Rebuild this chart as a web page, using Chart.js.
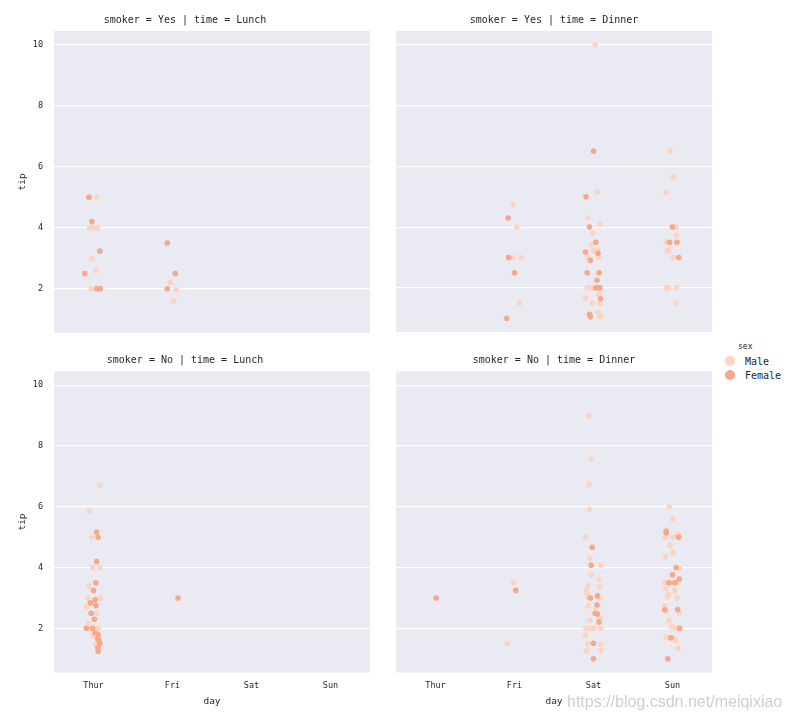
<!DOCTYPE html>
<html>
<head>
<meta charset="utf-8">
<script src="https://cdn.jsdelivr.net/npm/chart.js@4/dist/chart.umd.min.js"></script>
<style>
body{margin:0;background:#fff;width:792px;height:720px;position:relative;overflow:hidden;font-family:'DejaVu Sans Mono',monospace;color:#262626}
.panel{position:absolute}
#legend{position:absolute;left:722px;top:340px;width:70px;color:#262626}
#legend .ttl{position:absolute;left:16px;top:2px;font-size:8px}
#legend .row{position:absolute;left:3px;height:12px;font-size:10px;line-height:12px;white-space:nowrap}
#legend .dot{display:inline-block;width:10px;height:10px;border-radius:50%;vertical-align:middle;margin-right:10px;position:relative;top:-1px}
#wm{position:absolute;left:567px;top:693px;font-family:'Liberation Sans Narrow','Liberation Sans',sans-serif;font-size:16px;color:#cfcfcf;white-space:nowrap}
</style>
</head>
<body>
<div class="panel" style="left:0;top:340px;width:380px;height:380px"><canvas id="c2"></canvas></div>
<div class="panel" style="left:386px;top:340px;width:336px;height:380px"><canvas id="c3"></canvas></div>
<div class="panel" style="left:0;top:0;width:380px;height:349px"><canvas id="c0"></canvas></div>
<div class="panel" style="left:386px;top:0;width:336px;height:340px"><canvas id="c1"></canvas></div>
<div id="legend"></div>
<div id="wm">https://blog.csdn.net/meiqixiao</div>
<script>
// categories / ticks
const days=['Thur','Fri','Sat','Sun'];
const tipTicks=[2,4,6,8,10];
const sexes=['Male','Female'];
const MALE='#fcd4c0',FEMALE='#f5a88a';

const yesLunchMale=[['Thur',0.044,5.0],['Thur',-0.05,4.0],['Thur',0,4.0],['Thur',0.05,4.0],['Thur',-0.02,3.0],['Thur',0.03,2.6],['Thur',-0.03,2.0],['Thur',0.015,2.0],
  ['Fri',-0.03,2.2],['Fri',0.045,1.96],['Fri',0.015,1.6]];
const yesLunchFemale=[['Thur',-0.057,5.0],['Thur',-0.02,4.2],['Thur',0.08,3.23],['Thur',-0.11,2.5],['Thur',0.045,2.0],['Thur',0.07,2.0],['Thur',0.085,2.0],
  ['Fri',-0.066,3.5],['Fri',0.035,2.5],['Fri',-0.066,2.0]];

const yesDinnerMale=[['Fri',-0.02,4.73],['Fri',0.03,4.0],['Fri',-0.02,3.0],['Fri',0.08,3.0],['Fri',0.066,1.5],
  ['Sat',0.02,10.0],['Sat',0.05,5.16],['Sat',-0.07,4.3],['Sat',0.085,4.1],['Sat',-0.01,3.8],['Sat',-0.03,3.43],['Sat',0,3.22],['Sat',0.05,3.25],['Sat',-0.07,3.0],['Sat',0.065,3.0],
  ['Sat',-0.08,2.0],['Sat',-0.044,2.0],['Sat',-0.01,2.0],['Sat',0.07,1.79],['Sat',-0.1,1.68],['Sat',-0.015,1.5],['Sat',0.08,1.48],['Sat',0.06,1.2],['Sat',0.085,1.05],
  ['Sun',-0.03,6.5],['Sun',0.01,5.65],['Sun',-0.08,5.15],['Sun',0.045,4.0],['Sun',0.05,3.72],['Sun',-0.08,3.5],['Sun',-0.065,3.2],['Sun',-0.05,3.25],['Sun',0.01,3.0],
  ['Sun',-0.08,2.0],['Sun',-0.05,2.0],['Sun',0.05,2.0],['Sun',0.05,1.5]];
const yesDinnerFemale=[['Fri',-0.08,4.3],['Fri',-0.075,3.0],['Fri',0,2.5],['Fri',-0.1,1.0],
  ['Sat',0,6.5],['Sat',-0.095,5.0],['Sat',-0.05,4.0],['Sat',0.03,3.5],['Sat',-0.1,3.18],['Sat',0.057,3.14],['Sat',-0.04,2.9],['Sat',-0.08,2.5],['Sat',0.07,2.5],['Sat',0.045,2.25],
  ['Sat',0.03,2.0],['Sat',0.057,2.0],['Sat',0.08,2.0],['Sat',0.09,1.64],['Sat',-0.05,1.13],['Sat',-0.04,1.05],
  ['Sun',0,4.0],['Sun',-0.035,3.5],['Sun',0.057,3.5],['Sun',0.08,3.0]];

const noLunchMale=[['Thur',0.08,6.7],['Thur',-0.05,5.85],['Thur',-0.02,5.0],['Thur',-0.01,4.0],['Thur',0.08,4.0],['Thur',-0.06,3.4],['Thur',-0.07,3.0],['Thur',0.085,3.0],
  ['Thur',-0.09,2.72],['Thur',0.045,2.5],['Thur',-0.065,2.18],['Thur',0.02,2.0],['Thur',0.06,2.0],['Thur',0,1.75],['Thur',0.03,1.48]];
const noLunchFemale=[['Thur',0.04,5.17],['Thur',0.06,5.0],['Thur',0.04,4.2],['Thur',0.03,3.5],['Thur',0,3.25],['Thur',0.02,2.94],['Thur',-0.04,2.84],['Thur',0.03,2.75],
  ['Thur',-0.03,2.5],['Thur',0.01,2.3],['Thur',-0.09,2.0],['Thur',-0.015,2.0],['Thur',0.02,1.85],['Thur',0.06,1.8],['Thur',0.055,1.66],['Thur',0.07,1.61],
  ['Thur',0.08,1.5],['Thur',0.055,1.37],['Thur',0.06,1.25],
  ['Fri',0.07,3.0]];

const noDinnerMale=[['Fri',-0.01,3.5],['Fri',-0.09,1.5],
  ['Sat',-0.057,9.0],['Sat',-0.03,7.58],['Sat',-0.057,6.73],['Sat',-0.05,5.92],['Sat',-0.1,5.0],['Sat',-0.045,4.32],['Sat',0.09,4.08],['Sat',-0.03,3.77],['Sat',0.07,3.61],
  ['Sat',-0.07,3.4],['Sat',0.08,3.37],['Sat',-0.09,3.23],['Sat',-0.08,3.15],['Sat',-0.06,3.02],['Sat',0.08,3.0],['Sat',-0.07,2.74],['Sat',0.03,2.62],['Sat',0.085,2.33],
  ['Sat',-0.045,2.26],['Sat',-0.095,2.0],['Sat',-0.06,2.0],['Sat',-0.03,2.0],['Sat',0.005,2.0],['Sat',0.09,2.0],['Sat',-0.1,1.77],['Sat',-0.07,1.49],['Sat',0.09,1.47],
  ['Sat',-0.09,1.27],['Sat',0.095,1.27],
  ['Sun',-0.04,6.0],['Sun',0,5.6],['Sun',-0.095,5.0],['Sun',0.006,5.0],['Sun',0.07,5.09],['Sun',-0.03,4.73],['Sun',0.006,4.5],['Sun',-0.09,4.35],['Sun',0.085,3.97],
  ['Sun',-0.1,3.52],['Sun',0,3.5],['Sun',0.065,3.5],['Sun',-0.085,3.31],['Sun',0.03,3.23],['Sun',-0.05,3.11],['Sun',-0.06,3.04],['Sun',0.055,3.0],['Sun',-0.095,2.74],
  ['Sun',-0.08,2.55],['Sun',0.09,2.52],['Sun',-0.045,2.26],['Sun',-0.01,2.05],['Sun',0.03,2.0],['Sun',0.07,2.0],['Sun',-0.08,1.72],['Sun',0.03,1.64],['Sun',0.045,1.58],['Sun',0.07,1.34]];
const noDinnerFemale=[['Thur',0.01,3.0],['Fri',0.015,3.25],
  ['Sat',-0.015,4.67],['Sat',-0.03,4.08],['Sat',-0.04,3.0],['Sat',0.05,3.07],['Sat',0.045,2.77],['Sat',0.02,2.49],['Sat',0.05,2.47],['Sat',0.07,2.21],['Sat',0,1.51],['Sat',0,1.0],
  ['Sun',-0.08,5.2],['Sun',-0.08,5.14],['Sun',0.08,5.0],['Sun',0.045,4.0],['Sun',0,3.76],['Sun',0.085,3.62],['Sun',-0.045,3.5],['Sun',0.03,3.5],['Sun',-0.1,2.61],
  ['Sun',0.065,2.62],['Sun',0.09,2.0],['Sun',-0.02,1.69],['Sun',-0.06,1.0]];

const FONT='DejaVu Sans Mono';
const toXY=arr=>arr.map(([d,j,t])=>({x:days.indexOf(d)+j,y:t}));

const panelBg={id:'panelBg',beforeDraw(c){
  const a=c.chartArea,ctx=c.ctx;
  ctx.save();ctx.fillStyle='#eaeaf2';ctx.fillRect(a.left,a.top,a.right-a.left,a.bottom-a.top);ctx.restore();
}};

function makePanel(id,title,male,female,showY,showX){
  new Chart(document.getElementById(id),{
    type:'scatter',
    data:{datasets:[
      // female first so it is painted on top of male, like seaborn
      {label:'Female',data:toXY(female),backgroundColor:FEMALE,pointRadius:2.8,pointHoverRadius:2.8,borderWidth:0},
      {label:'Male',data:toXY(male),backgroundColor:MALE,pointRadius:2.8,pointHoverRadius:2.8,borderWidth:0}
    ]},
    options:{
      responsive:true,maintainAspectRatio:false,animation:false,devicePixelRatio:1,
      layout:{padding:{left:showY?0:10,right:10,top:0,bottom:showX?11.5:8}},
      plugins:{
        legend:{display:false},tooltip:{enabled:false},
        title:{display:true,text:title,color:'#262626',font:{family:FONT,size:10,weight:'normal'},padding:{top:14,bottom:showX?5.5:5}}
      },
      scales:{
        x:{type:'linear',min:-0.5,max:3.5,display:showX,
          afterBuildTicks:s=>{s.ticks=days.map((d,i)=>({value:i}));},
          afterFit:s=>{s.height=showX?36:0;},
          grid:{display:false,drawTicks:false},border:{display:false},
          ticks:{padding:8,color:'#262626',font:{family:FONT,size:8.5},callback:v=>days[v]},
          title:{display:true,text:'day',color:'#262626',font:{family:FONT,size:9.5},padding:{top:0,bottom:1.5}}
        },
        y:{type:'linear',min:0.55,max:10.45,
          afterBuildTicks:s=>{s.ticks=tipTicks.map(v=>({value:v}));},
          afterFit:s=>{s.width=showY?54:0;},
          grid:{color:'#ffffff',lineWidth:1.2,drawTicks:false},border:{display:false},
          ticks:{display:showY,padding:11,color:'#262626',font:{family:FONT,size:8.5},callback:v=>String(v)},
          title:{display:showY,text:'tip',color:'#262626',font:{family:FONT,size:9.5},padding:{top:16.5,bottom:0}}
        }
      }
    },
    plugins:[panelBg]
  });
}

makePanel('c0','smoker = Yes | time = Lunch',yesLunchMale,yesLunchFemale,true,false);
makePanel('c1','smoker = Yes | time = Dinner',yesDinnerMale,yesDinnerFemale,false,false);
makePanel('c2','smoker = No | time = Lunch',noLunchMale,noLunchFemale,true,true);
makePanel('c3','smoker = No | time = Dinner',noDinnerMale,noDinnerFemale,false,true);

// legend
const lg=document.getElementById('legend');
lg.innerHTML='<div class="ttl">sex</div>'+sexes.map((s,i)=>
  `<div class="row" style="top:${16+i*14}px"><span class="dot" style="background:${s==='Male'?MALE:FEMALE}"></span>${s}</div>`).join('');
</script>
</body>
</html>
